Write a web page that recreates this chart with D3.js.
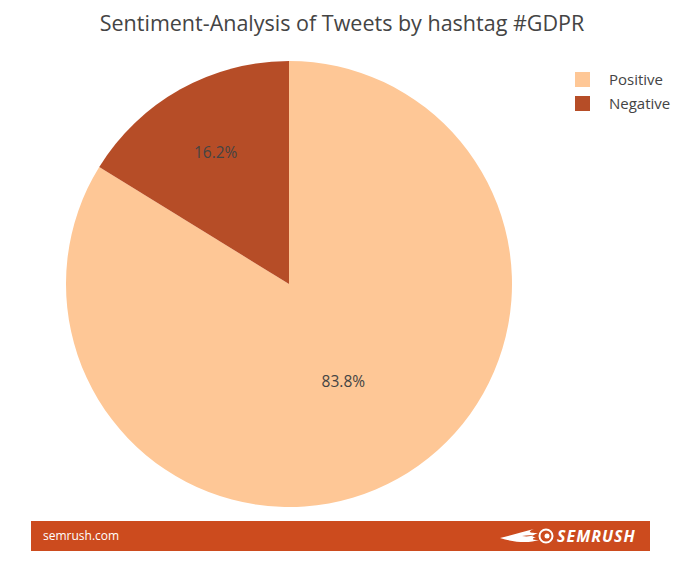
<!DOCTYPE html>
<html>
<head>
<meta charset="utf-8">
<script src="https://cdn.jsdelivr.net/npm/d3@7"></script>
<style>
  body { margin: 0; background: #fff; }
  text { font-family: "Open Sans", sans-serif; }
</style>
</head>
<body>
<div id="chart"></div>
<script>
// Chart data
const labels = ["Positive", "Negative"];
const values = [83.8, 16.2];
const colors = ["#fec796", "#b64d27"];
const title = "Sentiment-Analysis of Tweets by hashtag #GDPR";

const width = 685, height = 569;
const cx = 289, cy = 284, radius = 223;

const svg = d3.select("#chart")
    .append("svg")
    .attr("width", width)
    .attr("height", height);

// Title
svg.append("text")
    .attr("x", 342)
    .attr("y", 31)
    .attr("text-anchor", "middle")
    .style("font-size", "21.5px")
    .style("fill", "#444")
    .text(title);

// Pie
const pie = d3.pie().sort(null).value(d => d.value);
const arc = d3.arc().innerRadius(0).outerRadius(radius);
const data = labels.map((l, i) => ({label: l, value: values[i], color: colors[i]}));

const g = svg.append("g").attr("transform", `translate(${cx},${cy})`);

g.selectAll("path")
    .data(pie(data))
    .join("path")
    .attr("d", arc)
    .attr("fill", d => d.data.color);

// Inside labels
g.selectAll("text.pct")
    .data(pie(data))
    .join("text")
    .attr("class", "pct")
    .attr("transform", d => {
        const [x, y] = arc.centroid(d);
        const k = d.data.label === "Positive" ? 1.0 : 1.35;
        return `translate(${x * k},${y * k})`;
    })
    .attr("text-anchor", "middle")
    .attr("dy", "0.35em")
    .style("font-size", "15.5px")
    .style("fill", "#444")
    .text(d => d.data.value.toFixed(1) + "%");

// Legend
const legend = svg.append("g").attr("transform", "translate(575,72)");
const item = legend.selectAll("g")
    .data(data)
    .join("g")
    .attr("transform", (d, i) => `translate(0,${i * 24})`);
item.append("rect")
    .attr("width", 15)
    .attr("height", 15)
    .attr("fill", d => d.color);
item.append("text")
    .attr("x", 34)
    .attr("y", 13)
    .style("font-size", "15px")
    .style("fill", "#444")
    .text(d => d.label);

// Footer bar
const footer = svg.append("g");
footer.append("rect")
    .attr("x", 31)
    .attr("y", 521)
    .attr("width", 619)
    .attr("height", 30)
    .attr("fill", "#cc4b1e");
footer.append("text")
    .attr("x", 43)
    .attr("y", 540)
    .style("font-size", "12px")
    .style("fill", "#fff")
    .text("semrush.com");

// Logo flame streaks
const logo = footer.append("g").attr("transform", "translate(500,537)");
logo.append("path")
    .attr("d", "M0,1 C12,-2 22,-5 34,-8 C27,-5 29,-4 38,-4 C31,-1 31,0 36,0 C31,2 32,3 39,3 C30,6 16,6 0,1 Z")
    .attr("fill", "#fff");
logo.append("path")
    .attr("d", "M22,-1 C28,-2 32,-2 35,-2 C30,-1 28,0 22,-1 Z")
    .attr("fill", "#cc4b1e");
logo.append("circle")
    .attr("cx", 46)
    .attr("cy", -1)
    .attr("r", 6.5)
    .attr("fill", "none")
    .attr("stroke", "#fff")
    .attr("stroke-width", 2);
logo.append("circle")
    .attr("cx", 47)
    .attr("cy", -1)
    .attr("r", 2.5)
    .attr("fill", "#fff");
footer.append("text")
    .attr("x", 557)
    .attr("y", 542)
    .style("font-size", "16px")
    .style("font-weight", "bold")
    .style("font-style", "italic")
    .style("letter-spacing", "1px")
    .style("fill", "#fff")
    .text("SEMRUSH");
</script>
</body>
</html>
